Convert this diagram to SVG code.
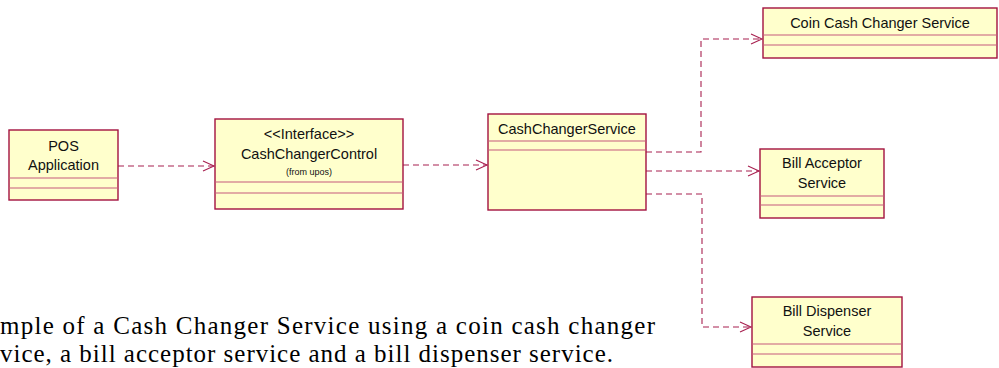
<svg xmlns="http://www.w3.org/2000/svg" width="999" height="368" viewBox="0 0 999 368">
<defs>
<style>
.box{fill:#FFFFCC;stroke:#A3123F;stroke-width:1.4}
.sep{stroke:#C65A7C;stroke-width:1.2}
.t{font-family:"Liberation Sans",Arial,sans-serif;font-size:14.5px;fill:#111;text-anchor:middle}
.s{font-family:"Liberation Sans",Arial,sans-serif;font-size:9px;fill:#111;text-anchor:middle}
.cap{font-family:"Liberation Serif","Times New Roman",serif;font-size:25px;fill:#000}
.dep{fill:none;stroke:#A82150;stroke-width:1.1;stroke-dasharray:6,4;marker-end:url(#arr)}
</style>
<marker id="arr" markerWidth="14" markerHeight="12" refX="12" refY="6" orient="auto" markerUnits="userSpaceOnUse">
<path d="M1,1 L12,6 L1,11" fill="none" stroke="#A82150" stroke-width="1.1"/>
</marker>
</defs>
<rect width="999" height="368" fill="#fff"/>
<g id="connectors">
<path class="dep" d="M118,166 H214"/>
<path class="dep" d="M403,165 H487"/>
<path class="dep" d="M646,152 H701 V39 H762"/>
<path class="dep" d="M646,171 H759"/>
<path class="dep" d="M646,194 H702 V327 H751"/>
</g>
<g id="pos">
<rect class="box" x="9" y="130" width="109" height="70"/>
<line class="sep" x1="9" y1="178" x2="118" y2="178"/>
<line class="sep" x1="9" y1="188" x2="118" y2="188"/>
<text class="t" x="63.5" y="151">POS</text>
<text class="t" x="63.5" y="170">Application</text>
</g>
<g id="control">
<rect class="box" x="215" y="119" width="188" height="90"/>
<line class="sep" x1="215" y1="182" x2="403" y2="182"/>
<line class="sep" x1="215" y1="193" x2="403" y2="193"/>
<text class="t" x="309" y="139">&lt;&lt;Interface&gt;&gt;</text>
<text class="t" x="309" y="159">CashChangerControl</text>
<text class="s" x="309" y="175">(from upos)</text>
</g>
<g id="service">
<rect class="box" x="488" y="114" width="158" height="96"/>
<line class="sep" x1="488" y1="141" x2="646" y2="141"/>
<line class="sep" x1="488" y1="150" x2="646" y2="150"/>
<text class="t" x="567" y="134">CashChangerService</text>
</g>
<g id="coin">
<rect class="box" x="763" y="8" width="234" height="50"/>
<line class="sep" x1="763" y1="35" x2="997" y2="35"/>
<line class="sep" x1="763" y1="45" x2="997" y2="45"/>
<text class="t" x="880" y="28">Coin Cash Changer Service</text>
</g>
<g id="acceptor">
<rect class="box" x="760" y="149" width="124" height="69"/>
<line class="sep" x1="760" y1="196" x2="884" y2="196"/>
<line class="sep" x1="760" y1="205" x2="884" y2="205"/>
<text class="t" x="822" y="168">Bill Acceptor</text>
<text class="t" x="822" y="188">Service</text>
</g>
<g id="dispenser">
<rect class="box" x="752" y="297" width="150" height="70"/>
<line class="sep" x1="752" y1="344" x2="902" y2="344"/>
<line class="sep" x1="752" y1="354" x2="902" y2="354"/>
<text class="t" x="827" y="316">Bill Dispenser</text>
<text class="t" x="827" y="336">Service</text>
</g>
<text class="cap" x="0" y="334" textLength="655">mple of a Cash Changer Service using a coin cash changer</text>
<text class="cap" x="0" y="362" textLength="613">vice, a bill acceptor service and a bill dispenser service.</text>
</svg>
